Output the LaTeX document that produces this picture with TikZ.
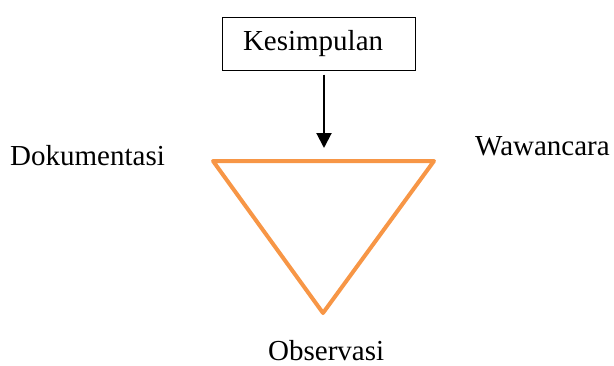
\documentclass[tikz,border=0pt]{standalone}
\usepackage{fontspec}
\setmainfont{Liberation Serif}
\usetikzlibrary{arrows.meta,positioning}

\definecolor{segiorange}{RGB}{247,150,70}

\begin{document}
\begin{tikzpicture}[
    x=1pt, y=-1pt,
    box/.style={draw, line width=1pt, minimum height=53pt,
                inner sep=0pt, font=\fontsize{29}{34}\selectfont},
    label/.style={inner sep=0pt, text depth=0pt, anchor=base west,
                  font=\fontsize{29}{34}\selectfont},
    arrow/.style={-{Triangle[length=15pt,width=15pt]}, line width=2pt},
    segitiga/.style={draw=segiorange, line width=4pt, line join=round, line cap=round},
]
\useasboundingbox (0,0) rectangle (614,365);

% Kesimpulan di atas
\node[box] (kes) at (318.5,43.5) {\makebox[193pt][l]{\hspace{21pt}Kesimpulan}};

% Sudut segitiga
\coordinate (kiri) at (213,161);
\coordinate (kanan) at (434,161);
\coordinate (bawah) at (323,313);
\coordinate (atas) at (324,148);
\draw[segitiga] (kiri) -- (kanan) -- (bawah) -- cycle;

% Label sudut
\node[label] (dok) at (10,165) {Dokumentasi};
\node[label] (waw) at (475,155) {Wawancara};
\node[label] (obs) at (268,360) {Observasi};

% Panah
\draw[arrow] (kes.south -| atas) ++(0,4) -- (atas);

\end{tikzpicture}
\end{document}
